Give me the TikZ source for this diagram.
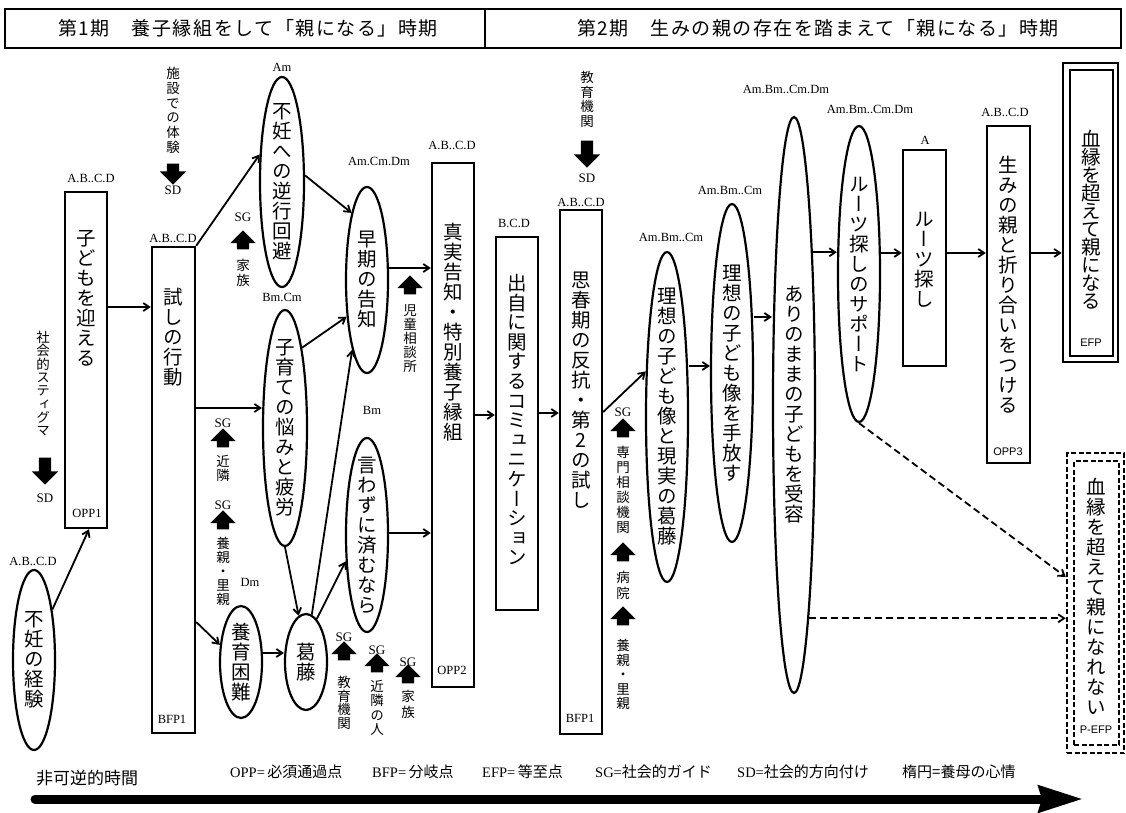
\documentclass[tikz,border=0pt]{standalone}
\usepackage{fontspec}
\setmainfont{Liberation Serif}
\newfontfamily\jp{Noto Sans CJK JP}
\newfontfamily\vjp[RawFeature=+vert]{Noto Sans CJK JP}
\newfontfamily\jphead[LetterSpace=8]{Noto Sans CJK JP}
\newfontfamily\sfx{Liberation Sans}
\usetikzlibrary{shapes.geometric,shapes.arrows,arrows.meta,calc}
\newcommand\vtA[1]{\ifx#1\relax\else\hbox to 1.1em{\hss#1\hss}\expandafter\vtA\fi}
\newcommand\vt[2][20pt]{\vbox{\baselineskip=#1\lineskiplimit=-100pt\lineskip=0pt\vtA#2\relax}}
\newcommand\J[1]{{\jp\fontsize{15}{16}\selectfont #1}}
\tikzset{
 box/.style={draw, line width=2.4pt, rectangle, inner sep=0pt},
 ell/.style={draw, line width=2.2pt, ellipse, inner sep=0pt},
 vtxt/.style={inner sep=0pt, font=\vjp\fontsize{19.5}{20}\selectfont, anchor=north},
 ctxt/.style={inner sep=0pt, font=\vjp\fontsize{19.5}{20}\selectfont},
 stxt/.style={inner sep=0pt, font=\vjp\fontsize{13.5}{14}\selectfont, anchor=north},
 lab/.style={inner sep=0pt, font=\rmfamily\fontsize{12.5}{13}\selectfont},
 sflab/.style={inner sep=0pt, font=\sfx\fontsize{11}{12}\selectfont},
 sg/.style={inner sep=0pt, font=\rmfamily\fontsize{13}{14}\selectfont},
 conn/.style={line width=1.8pt, -{Straight Barb[length=6pt,width=8pt]}},
 dconn/.style={conn, dash pattern=on 7pt off 4pt},
 uarr/.style={single arrow, fill=black, draw=none, inner sep=6pt, single arrow head extend=6.5pt, minimum height=19pt, shape border rotate=90},
 darr/.style={uarr, single arrow head extend=7pt, minimum height=27pt, shape border rotate=270},
 hdr/.style={draw, line width=2.2pt, minimum height=39pt, inner sep=0pt},
 htxt/.style={inner sep=0pt, font=\jphead\fontsize{19}{20}\selectfont},
 leg/.style={inner sep=0pt, anchor=west, font=\rmfamily\fontsize{14.5}{16}\selectfont},
 dbox/.style={box, line width=2.5pt, dash pattern=on 5pt off 2.5pt},
}
\begin{document}
\begin{tikzpicture}[x=1pt,y=-1pt]
\useasboundingbox (0,0) rectangle (1126,813);
\fill[white] (0,0) rectangle (1126,813);

% header
\node[hdr, minimum width=480pt] (h1) at (245,28.5) {};
\node[hdr, minimum width=636pt] (h2) at (803,28.5) {};
\node[htxt] (h1t) at (248,28.5) {第1期　養子縁組をして「親になる」時期};
\node[htxt] (h2t) at (818,28.5) {第2期　生みの親の存在を踏まえて「親になる」時期};

% level coordinates
\coordinate (y307) at (0,307);
\coordinate (y408) at (0,408);
\coordinate (y622) at (0,622);
\coordinate (y653) at (0,653);
\coordinate (y268) at (0,268);
\coordinate (y533) at (0,533);
\coordinate (y415) at (0,415);
\coordinate (y413) at (0,413);
\coordinate (y412) at (0,412);
\coordinate (y366) at (0,366);
\coordinate (y317) at (0,317);
\coordinate (y253) at (0,253);
\coordinate (y577) at (0,577);

% ellipses
\node[ell, minimum width=42pt, minimum height=180pt] (funin) at (34,660) {};
\node[ctxt] (funinT) at (funin.center) {\vt{不妊の経験}};
\node[ell, minimum width=44pt, minimum height=210pt] (gyakko) at (282,182) {};
\node[ctxt] (gyakkoT) at (gyakko.center) {\vt{不妊への逆行回避}};
\node[ell, minimum width=42pt, minimum height=186pt] (soki) at (367,280) {};
\node[ctxt] (sokiT) at (soki.center) {\vt{早期の告知}};
\node[ell, minimum width=44pt, minimum height=236pt] (kosodate) at (285,428) {};
\node[ctxt] (kosodateT) at (kosodate.center) {\vt{子育ての悩みと疲労}};
\node[ell, minimum width=42pt, minimum height=112pt] (yoiku) at (241,662) {};
\node[ctxt] (yoikuT) at (yoiku.center) {\vt{養育困難}};
\node[ell, minimum width=42pt, minimum height=96pt] (katto) at (306,662) {};
\node[ctxt] (kattoT) at (katto.center) {\vt{葛藤}};
\node[ell, minimum width=42pt, minimum height=194pt] (iwazu) at (367,535) {};
\node[ctxt] (iwazuT) at (iwazu.center) {\vt{言わずに済むなら}};
\node[ell, minimum width=42pt, minimum height=330pt] (riso1) at (667,417) {};
\node[ctxt] (riso1T) at (riso1.center) {\vt{理想の子ども像と現実の葛藤}};
\node[ell, minimum width=42pt, minimum height=338pt] (riso2) at (732,373) {};
\node[ctxt] (riso2T) at (riso2.center) {\vt{理想の子ども像を手放す}};
\node[ell, minimum width=42pt, minimum height=576pt] (accept) at (794,405) {};
\node[ctxt] (acceptT) at (accept.center) {\vt{ありのままの子どもを受容}};
\node[ell, minimum width=42pt, minimum height=296pt] (rsup) at (859,274) {};
\node[ctxt] (rsupT) at (rsup.center) {\vt{ルーツ探しのサポート}};

% boxes
\node[box, minimum width=42pt, minimum height=336pt] (kodomo) at (86,360) {};
\node[vtxt] (kodomoT) at (86,230) {\vt{子どもを迎える}};
\node[box, minimum width=43pt, minimum height=486pt] (tameshi) at (173.5,490) {};
\node[vtxt] (tameshiT) at (173.5,288) {\vt{試しの行動}};
\node[box, minimum width=42pt, minimum height=524pt] (shinjitsu) at (453,425) {};
\node[vtxt] (shinjitsuT) at (453,223) {\vt{真実告知・特別養子縁組}};
\node[box, minimum width=42pt, minimum height=373pt] (deji) at (517,423.5) {};
\node[vtxt] (dejiT) at (517,274) {\vt[19.6pt]{出自に関するコミュニケーション}};
\node[box, minimum width=42pt, minimum height=524pt] (shishunki) at (581,472) {};
\node[vtxt] (shishunkiT) at (581,272) {\vt{思春期の反抗・第2の試し}};
\node[box, minimum width=43pt, minimum height=216pt] (roots) at (924.5,258) {};
\node[vtxt] (rootsT) at (924.5,212) {\vt{ルーツ探し}};
\node[box, minimum width=43pt, minimum height=337pt] (umino) at (1008.5,294.5) {};
\node[vtxt] (uminoT) at (1008.5,156) {\vt{生みの親と折り合いをつける}};
\node[box, line width=2.6pt, minimum width=55pt, minimum height=299pt] (efpo) at (1090.5,212.5) {};
\node[box, line width=2.6pt, minimum width=43pt, minimum height=286pt] (efpi) at (1091.5,213) {};
\node[vtxt] (efpT) at (1091.5,130) {\vt[18pt]{血縁を超えて親になる}};
\node[dbox, minimum width=57pt, minimum height=300pt] (pefpo) at (1095.5,603) {};
\node[dbox, minimum width=45pt, minimum height=284pt] (pefpi) at (1096.5,603) {};
\node[vtxt] (pefpT) at (1096.5,478) {\vt{血縁を超えて親になれない}};

% labels
\node[lab] (l01) at (33,561) {A.B..C.D};
\node[lab] (l02) at (91,178) {A.B..C.D};
\node[lab] (l03) at (173,238) {A.B..C.D};
\node[lab] (l04) at (282,67) {Am};
\node[lab] (l05) at (379,161) {Am.Cm.Dm};
\node[lab] (l06) at (282,297) {Bm.Cm};
\node[lab] (l07) at (250,582) {Dm};
\node[lab] (l08) at (372,410) {Bm};
\node[lab] (l09) at (452,145) {A.B..C.D};
\node[lab] (l10) at (514,223) {B.C.D};
\node[lab] (l11) at (581,202) {A.B..C.D};
\node[lab] (l12) at (671,237) {Am.Bm..Cm};
\node[lab] (l13) at (730,190) {Am.Bm..Cm};
\node[lab] (l14) at (786,89) {Am.Bm..Cm.Dm};
\node[lab] (l15) at (870,109) {Am.Bm..Cm.Dm};
\node[lab] (l16) at (925,140) {A};
\node[lab] (l17) at (1005,112) {A.B..C.D};
\node[lab] (i01) at (87,513) {OPP1};
\node[lab] (i02) at (172,719) {BFP1};
\node[lab] (i03) at (452,670) {OPP2};
\node[lab] (i04) at (580,718) {BFP1};
\node[sflab] (i05) at (1008,452) {OPP3};
\node[sflab] (i06) at (1091,343) {EFP};
\node[sflab] (i07) at (1096,730) {P-EFP};

% social direction / guide arrows
\node[stxt] (g01) at (43,331) {\vt[13.3pt]{社会的スティグマ}};
\node[darr] (a01) at (45,468) {};
\node[sg] (s01) at (45,498) {SD};
\node[stxt] (g02) at (173,67) {\vt[14.8pt]{施設での体験}};
\node[darr, minimum height=21pt] (a02) at (173,171) {};
\node[sg] (s02) at (173,190) {SD};
\node[stxt] (g03) at (587,71) {\vt[14.5pt]{教育機関}};
\node[darr] (a03) at (587,151) {};
\node[sg] (s03) at (587,178) {SD};

\node[sg] (s04) at (243,217) {SG};
\node[uarr] (a04) at (243,243) {};
\node[stxt] (g04) at (243,259) {\vt[15pt]{家族}};
\node[sg] (s05) at (223,423) {SG};
\node[uarr] (a05) at (223,441) {};
\node[stxt] (g05) at (223,455) {\vt[14pt]{近隣}};
\node[sg] (s06) at (223,505) {SG};
\node[uarr] (a06) at (223,523) {};
\node[stxt] (g06) at (223,537) {\vt[14pt]{養親・里親}};
\node[uarr] (a07) at (410,288) {};
\node[stxt] (g07) at (410,304) {\vt[14.2pt]{児童相談所}};
\node[sg] (s08) at (344,637) {SG};
\node[uarr] (a08) at (344,654) {};
\node[stxt] (g08) at (344,676) {\vt[13.5pt]{教育機関}};
\node[sg] (s09) at (377,650) {SG};
\node[uarr] (a09) at (377,666) {};
\node[stxt] (g09) at (377,680) {\vt[14.5pt]{近隣の人}};
\node[sg] (s10) at (408,662) {SG};
\node[uarr] (a10) at (408,677) {};
\node[stxt] (g10) at (408,690) {\vt[16pt]{家族}};
\node[sg] (s11) at (623,412) {SG};
\node[uarr] (a11) at (623,431) {};
\node[stxt] (g11) at (623,446) {\vt[15pt]{専門相談機関}};
\node[uarr] (a12) at (623,555) {};
\node[stxt] (g12) at (623,571) {\vt[15.5pt]{病院}};
\node[uarr] (a13) at (623,619) {};
\node[stxt] (g13) at (623,639) {\vt[14.6pt]{養親・里親}};

% connectors
\draw[conn] (funin.70) -- ([xshift=3pt]kodomo.south);
\draw[conn] (kodomo.east |- y307) -- (tameshi.west |- y307);
\draw[conn] (tameshi.north east) -- (gyakko.129);
\draw[conn] (tameshi.east |- y408) -- (kosodate.west |- y408);
\draw[conn] (tameshi.east |- y622) -- (yoiku.141);
\draw[conn] (gyakko.16) -- (soki.103);
\draw[conn] (kosodate.78) -- (soki.241.6);
\draw[conn] (kosodate.south) -- (katto.99);
\draw[conn] (yoiku.east |- y653) -- (katto.west |- y653);
\draw[conn] (katto.83) -- (soki.258);
\draw[conn] (katto.76) -- (iwazu.231);
\draw[conn] (soki.east |- y268) -- (shinjitsu.west |- y268);
\draw[conn] (iwazu.east |- y533) -- (shinjitsu.west |- y533);
\draw[conn] (shinjitsu.east |- y415) -- (deji.west |- y415);
\draw[conn] (deji.east |- y413) -- (shishunki.west |- y413);
\draw[conn] (shishunki.east |- y412) -- (riso1.115);
\draw[conn] (riso1.east |- y366) -- (riso2.west |- y366);
\draw[conn] (riso2.east |- y317) -- (accept.west |- y317);
\coordinate (c1) at (accept.83.2);
\draw[conn] (c1) -- (rsup.west |- c1);
\draw[conn] (rsup.east |- y253) -- (roots.west |- y253);
\draw[conn] (roots.east |- y253) -- (umino.west |- y253);
\draw[conn] (umino.east |- y253) -- (efpo.west |- y253);
\draw[dconn] (rsup.south) -- (pefpo.west |- y577);
\coordinate (c2) at (accept.-86.7);
\draw[dconn] (c2) -- (pefpo.west |- c2);

% legend and time arrow
\node[inner sep=0pt, font=\jp\fontsize{17}{18}\selectfont] (time) at (87,778) {非可逆的時間};
\node[leg] (g1) at (230,772) {OPP=\,\J{必須通過点}};
\node[leg] (g2) at (372,772) {BFP=\,\J{分岐点}};
\node[leg] (g3) at (482,772) {EFP=\,\J{等至点}};
\node[leg] (g4) at (595,772) {SG=\J{社会的ガイド}};
\node[leg] (g5) at (737,772) {SD=\J{社会的方向付け}};
\node[leg] (g6) at (902,772) {\J{楕円=養母の心情}};
\coordinate (t0) at (35,799);
\coordinate (t1) at (1083,799);
\draw[line width=9pt, line cap=round, -{Stealth[length=44pt,width=26pt,inset=3pt]}] (t0) -- (t1);
\end{tikzpicture}
\end{document}
